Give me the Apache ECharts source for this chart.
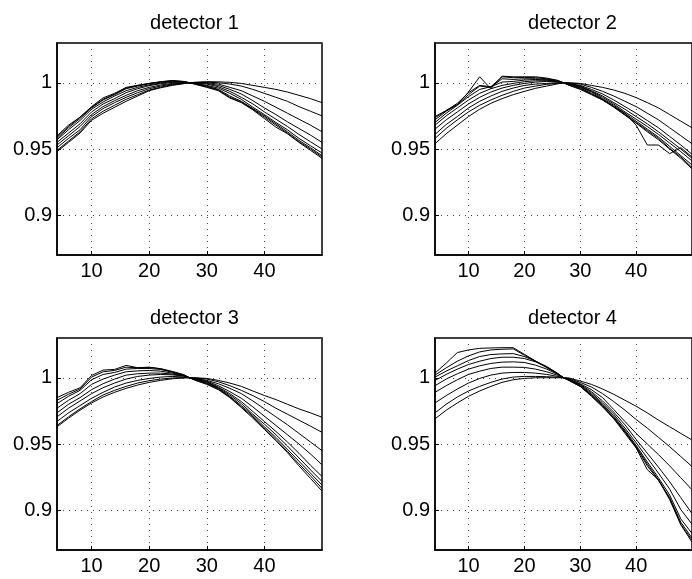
<!DOCTYPE html>
<html>
<head>
<meta charset="utf-8">
<script src="https://cdn.jsdelivr.net/npm/echarts@6/dist/echarts.min.js"></script>
<style>
html,body{margin:0;padding:0;background:#fff;}
#chart{width:692px;height:579px;}
</style>
</head>
<body>
<div id="chart"></div>
<script>
// x positions of the samples (detector pixel index)
const xValues = [4,6,8,10,12,14,16,18,20,22,24,26,27,28,30,32,34,36,38,40,42,44,46,48,50];
const panelTitles = ['detector 1','detector 2','detector 3','detector 4'];
const xTickRange = [4, 50];
const yTickRange = [0.87, 1.03];

const detector1 = [
  [.948,.955,.962,.9717,.977,.9815,.986,.990,.994,.9962,.998,.9993,1, 1.0004,1.0008,1.0007,1.0003,.9995,.998,.9965,.995,.993,.9905,.988,.985],
  [.949,.956,.963,.9728,.9785,.983,.9875,.991,.9945,.9967,.9985,.9995,1, 1.0002,1.0004,1.0,.999,.9975,.995,.992,.989,.986,.982,.9785,.975],
  [.951,.958,.9645,.9745,.9805,.985,.989,.9925,.9955,.9975,.999,.9998,1, 1.0,1.0,.999,.9965,.994,.990,.986,.9815,.977,.9725,.968,.963],
  [.953,.960,.967,.976,.982,.9865,.9905,.994,.9965,.9983,.9995,1.0,1, .9998,.9995,.998,.995,.9915,.9865,.981,.976,.9705,.9655,.9605,.955],
  [.955,.962,.969,.978,.984,.988,.9925,.9955,.9978,.9993,1.0003,1.0003,1, .9996,.999,.997,.9935,.989,.984,.978,.9725,.967,.961,.9555,.950],
  [.957,.9645,.9715,.980,.9855,.990,.994,.9965,.9985,.9998,1.0008,1.0005,1, .9994,.998,.996,.992,.9875,.9815,.976,.970,.9645,.958,.9525,.947],
  [.958,.966,.973,.981,.987,.991,.9955,.9975,.9993,1.0005,1.0012,1.0007,1, .9992,.9975,.995,.990,.986,.9805,.975,.969,.963,.9565,.951,.945],
  [.959,.967,.974,.9815,.9875,.9915,.996,.998,.9995,1.0006,1.0015,1.0009,1, .999,.997,.9945,.989,.9855,.980,.974,.968,.962,.9555,.950,.944],
  [.960,.968,.974,.982,.9886,.992,.9965,.998,.9995,1.0008,1.0017,1.001,1, .9988,.9965,.994,.9885,.985,.9795,.973,.9665,.9615,.955,.949,.943]
];

const detector2 = [
  [.954,.9615,.968,.9745,.980,.9845,.988,.991,.9935,.9958,.9975,.9992,1, 1.0,.9995,.998,.9965,.9945,.992,.9888,.985,.981,.976,.971,.966],
  [.958,.9655,.972,.978,.983,.987,.9905,.9935,.996,.9975,.9988,.9996,1, .9998,.999,.9965,.9935,.990,.986,.982,.977,.972,.966,.960,.954],
  [.961,.9685,.9745,.981,.986,.990,.9935,.996,.998,.999,.9995,1.0,1, .9995,.998,.995,.9915,.987,.982,.977,.9715,.966,.9595,.953,.946],
  [.965,.972,.978,.984,.989,.993,.996,.998,.9995,1.0005,1.001,1.0005,1, .9993,.9975,.994,.990,.985,.980,.9745,.969,.963,.9565,.950,.943],
  [.968,.975,.981,.987,.992,.9955,.998,.9995,1.0008,1.0015,1.0015,1.0008,1, .999,.997,.9935,.989,.984,.978,.9725,.967,.961,.9545,.948,.941],
  [.970,.977,.983,.9895,.995,.997,1.0005,1.001,1.002,1.0025,1.002,1.001,1, .9988,.9965,.993,.988,.983,.977,.971,.965,.959,.952,.945,.938],
  [.972,.9785,.9835,.991,.9975,.9965,1.003,1.0025,1.003,1.003,1.0025,1.0012,1, .9985,.996,.992,.9875,.982,.976,.970,.964,.958,.9505,.944,.936],
  [.9735,.979,.9845,.9925,.998,.997,1.0045,1.0038,1.004,1.0038,1.003,1.0015,1, .9983,.9955,.9915,.987,.9815,.9755,.9695,.963,.957,.950,.943,.935],
  [.9745,.979,.9835,.993,1.0045,.9955,1.005,1.0045,1.0045,1.0045,1.0035,1.0018,1, .998,.995,.991,.987,.982,.977,.968,.953,.953,.9465,.951,.944]
];

const detector3 = [
  [.963,.9695,.9755,.981,.9855,.989,.992,.9945,.9965,.998,.9992,.9998,1, 1.0,.9995,.998,.996,.9935,.990,.9866,.9835,.980,.9765,.9735,.9702],
  [.964,.9705,.9765,.982,.987,.9905,.9935,.996,.9978,.999,.9998,1.0002,1, .9998,.999,.997,.994,.9905,.9865,.982,.977,.9725,.968,.9635,.9588],
  [.967,.9735,.979,.9845,.989,.993,.996,.998,.9995,1.0005,1.001,1.0006,1, .9995,.998,.9955,.992,.988,.9825,.9765,.9705,.9645,.958,.9515,.945],
  [.9705,.977,.9825,.988,.9925,.996,.999,1.001,1.002,1.0025,1.0022,1.0012,1, .9993,.9975,.994,.9895,.9845,.978,.971,.964,.957,.950,.9425,.9343],
  [.9735,.980,.985,.991,.9955,.999,1.002,1.003,1.0035,1.0035,1.0028,1.0015,1, .999,.997,.993,.988,.982,.9745,.967,.9595,.9515,.943,.934,.9255],
  [.977,.983,.988,.995,.999,1.002,1.0045,1.0052,1.0055,1.005,1.0035,1.0018,1, .9988,.9965,.9925,.987,.9805,.9725,.965,.957,.9485,.9395,.9305,.9217],
  [.9805,.986,.9905,.9985,1.0025,1.004,1.0065,1.007,1.007,1.0062,1.0042,1.002,1, .9985,.996,.992,.986,.979,.9715,.963,.955,.946,.937,.928,.919],
  [.983,.9875,.9915,1.0005,1.0045,1.0055,1.008,1.0075,1.0078,1.0068,1.0045,1.0022,1, .9983,.9955,.9915,.9855,.978,.9705,.962,.9535,.9445,.935,.926,.9165],
  [.985,.989,.9924,1.0017,1.0058,1.0063,1.0093,1.0076,1.008,1.0068,1.0048,1.0023,1, .998,.995,.991,.985,.9775,.9695,.961,.9525,.9435,.9335,.924,.9145]
];

const detector4 = [
  [.969,.9755,.981,.986,.990,.9935,.9965,.9985,.9995,1.0,1.0,1.0,1, .9998,.9975,.995,.9915,.9875,.983,.9785,.9735,.968,.963,.958,.953],
  [.9735,.980,.9855,.990,.9935,.9965,.999,1.0005,1.001,1.001,1.0008,1.0004,1, .9995,.9965,.993,.988,.982,.9755,.9685,.962,.955,.948,.9405,.933],
  [.981,.9865,.9915,.996,.9995,1.002,1.0035,1.004,1.004,1.0035,1.0025,1.001,1, .999,.9955,.991,.985,.976,.967,.958,.950,.942,.9335,.9245,.9155],
  [.989,.994,.9985,1.0025,1.005,1.007,1.008,1.008,1.0078,1.0065,1.0045,1.0018,1, .9988,.995,.9895,.9825,.974,.9645,.9535,.943,.9325,.9215,.9095,.8975],
  [.994,.999,1.003,1.0065,1.009,1.0108,1.0118,1.012,1.0115,1.0095,1.0065,1.0025,1, .9985,.9945,.9885,.981,.9725,.962,.951,.9395,.928,.916,.9005,.8895],
  [.998,1.0025,1.0065,1.010,1.0125,1.0145,1.0155,1.0155,1.0145,1.012,1.008,1.003,1, .9983,.994,.9875,.980,.971,.9605,.949,.9365,.9245,.9115,.8935,.8825],
  [1.0005,1.005,1.009,1.013,1.016,1.0175,1.018,1.0182,1.016,1.0125,1.0085,1.0032,1, .998,.9935,.987,.979,.970,.9595,.948,.935,.923,.9095,.891,.879],
  [1.002,1.0075,1.0125,1.0165,1.0195,1.021,1.0215,1.0218,1.017,1.0125,1.008,1.003,1, .998,.9935,.9865,.9785,.9695,.959,.9475,.9335,.9225,.909,.8895,.8775],
  [1.0035,1.011,1.019,1.021,1.0222,1.0225,1.0227,1.0227,1.0177,1.0126,1.0076,1.0028,1, .998,.9935,.986,.978,.969,.958,.947,.9306,.923,.908,.889,.876]
];

const panels = [detector1, detector2, detector3, detector4];

const FONT = '"Liberation Sans", Arial, Helvetica, sans-serif';
const gridPos = [
  {left: 57, top: 43, width: 265, height: 212},
  {left: 435, top: 43, width: 265, height: 212},
  {left: 57, top: 338, width: 265, height: 212},
  {left: 435, top: 338, width: 265, height: 212}
];
const titleTops = [8, 8, 303, 303];

const grids = [], xAxes = [], yAxes = [], series = [], titles = [];
gridPos.forEach((g, i) => {
  grids.push(Object.assign({show: true, borderColor: '#000', borderWidth: 1.5, backgroundColor: '#fff', containLabel: false}, g));
  titles.push({
    text: panelTitles[i],
    left: g.left + g.width / 2,
    top: titleTops[i],
    textAlign: 'center',
    textStyle: {fontFamily: FONT, fontSize: 20, fontWeight: 'normal', color: '#000'}
  });
  const gridLine = {show: true, lineStyle: {color: '#444', width: 1, type: [1, 5]}};
  xAxes.push({
    type: 'value', gridIndex: i, min: xTickRange[0], max: xTickRange[1], splitNumber: 5,
    axisLine: {show: true, lineStyle: {color: '#000', width: 1.5}},
    axisTick: {show: true, inside: true, length: 4, lineStyle: {color: '#000'}},
    axisLabel: {fontFamily: FONT, fontSize: 20, color: '#000', margin: 6, showMinLabel: false, showMaxLabel: false},
    splitLine: gridLine
  });
  yAxes.push({
    type: 'value', gridIndex: i, min: yTickRange[0], max: yTickRange[1], splitNumber: 3,
    axisLine: {show: true, lineStyle: {color: '#000', width: 1.5}},
    axisTick: {show: true, inside: true, length: 4, lineStyle: {color: '#000'}},
    axisLabel: {fontFamily: FONT, fontSize: 20, color: '#000', margin: 5, showMinLabel: false, showMaxLabel: false},
    splitLine: gridLine
  });
  panels[i].forEach(curve => {
    series.push({
      type: 'line', xAxisIndex: i, yAxisIndex: i,
      data: xValues.map((x, j) => [x, curve[j]]),
      showSymbol: false, symbol: 'none', silent: true,
      lineStyle: {color: '#000', width: 1},
      clip: true
    });
  });
});

const chart = echarts.init(document.getElementById('chart'), null, {renderer: 'canvas'});
chart.setOption({
  animation: false,
  backgroundColor: '#fff',
  title: titles,
  grid: grids,
  xAxis: xAxes,
  yAxis: yAxes,
  series: series
});
</script>
</body>
</html>
